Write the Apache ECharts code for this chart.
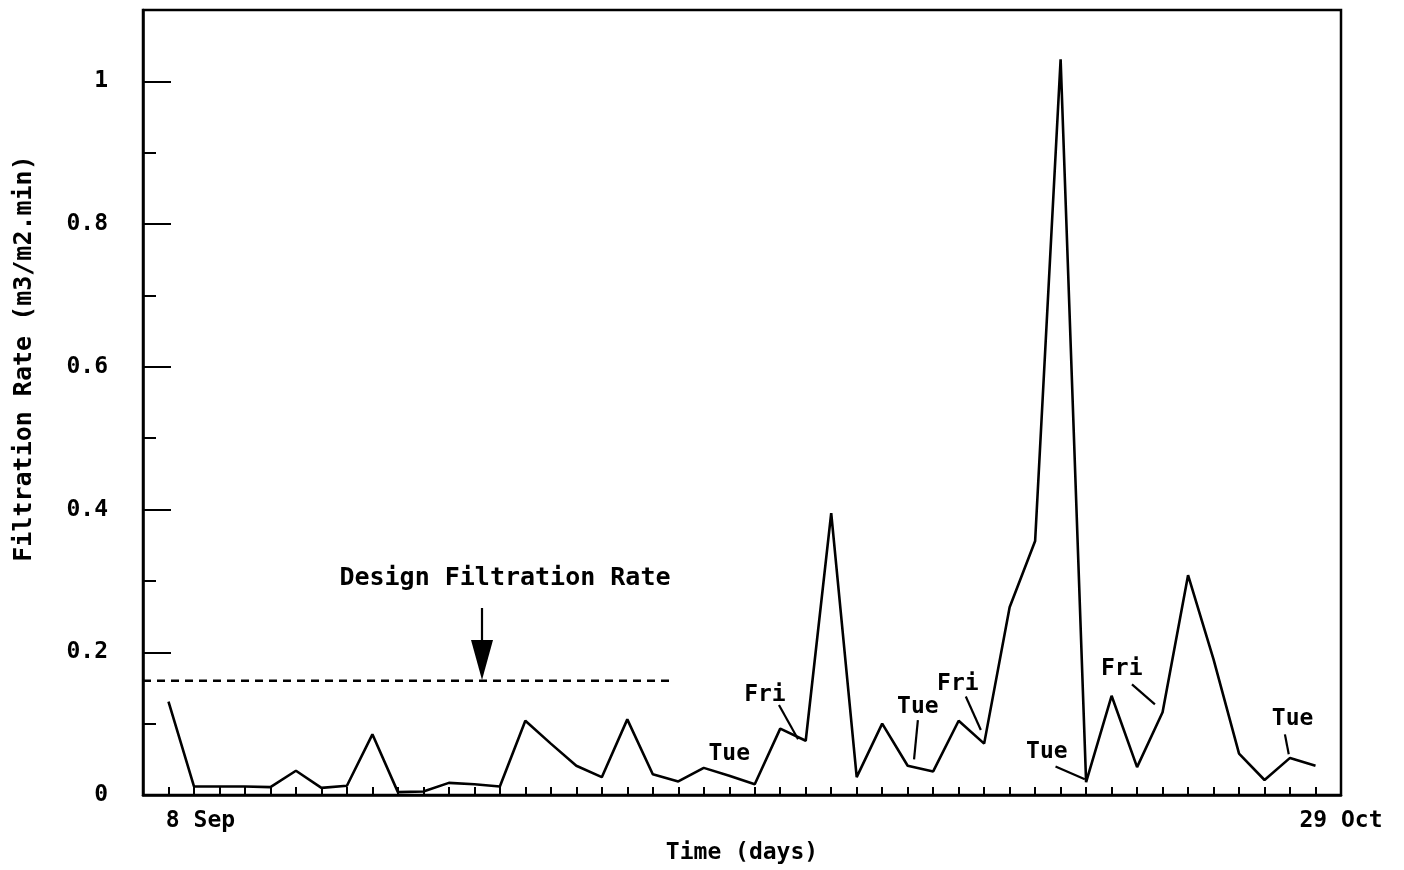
<!DOCTYPE html>
<html><head><meta charset="utf-8">
<script src="https://cdn.jsdelivr.net/npm/echarts@6/dist/echarts.min.js"></script>
<style>html,body{margin:0;padding:0;background:#fff}#c{width:1404px;height:870px}</style>
</head><body><div id="c"></div>
<script>
// ---- data ----
const dayIndex = [0,1,2,3,4,5,6,7,8,9,10,11,12,13,14,15,16,17,18,19,20,21,22,23,24,25,26,27,28,29,30,31,32,33,34,35,36,37,38,39,40,41,42,43,44,45];
const filtrationRate = [0.131,0.012,0.012,0.012,0.011,0.034,0.010,0.013,0.085,0.004,0.005,0.017,0.015,0.012,0.104,0.072,0.041,0.025,0.106,0.029,0.019,0.038,0.027,0.015,0.093,0.076,0.395,0.025,0.100,0.041,0.033,0.104,0.072,0.263,0.356,1.031,0.018,0.139,0.039,0.116,0.308,0.190,0.058,0.021,0.052,0.041];
const xTickLabels = {0: '8 Sep', 46: '29 Oct'};
const yMajorTicks = [0, 0.2, 0.4, 0.6, 0.8, 1];
const yMinorTicks = [0.1, 0.3, 0.5, 0.7, 0.9];
const designRate = 0.16;
const designLineX = [-1, 19.7];
const designLabel = 'Design Filtration Rate';
const designLabelPos = [13.2, 0.303];
const designArrowShaft = [[12.3, 0.262], [12.3, 0.175]];
const designArrowHead = [12.3, 0.189];
const dayNotes = ['Tue', 'Fri', 'Tue', 'Fri', 'Tue', 'Fri', 'Tue'];
const dayNotePos = [[22.0, 0.057], [23.4, 0.140], [29.4, 0.123], [30.97, 0.156], [34.46, 0.060], [37.4, 0.177], [44.1, 0.106]];
const dayLeaders = [
  [[23.95, 0.126], [24.7, 0.078]],
  [[29.4, 0.105], [29.25, 0.050]],
  [[31.28, 0.138], [31.87, 0.091]],
  [[34.8, 0.040], [35.95, 0.022]],
  [[37.8, 0.155], [38.7, 0.127]],
  [[43.8, 0.085], [43.95, 0.057]]
];
// --------------------------------------
const FONT = 'DejaVu Sans Mono';
const chart = echarts.init(document.getElementById('c'), null, {renderer: 'canvas'});
const axisLine = {show: true, onZero: false, lineStyle: {color: '#000', width: 2.5}};
chart.setOption({
  backgroundColor: '#fff',
  animation: false,
  grid: {left: 143, right: 63, top: 10, bottom: 71, show: true, borderColor: '#000', borderWidth: 2.5, backgroundColor: 'transparent'},
  xAxis: {
    type: 'value', min: -1, max: 46, interval: 1,
    axisLine: axisLine,
    splitLine: {show: false},
    axisTick: {show: true, inside: true, length: 8, lineStyle: {color: '#000', width: 2}},
    axisLabel: {
      show: true, margin: 15, color: '#000', fontFamily: FONT, fontSize: 23, fontWeight: 'bold',
      formatter: v => xTickLabels[v] !== undefined ? (v === 0 ? '{l|' + xTickLabels[v] + '}' : xTickLabels[v]) : '',
      rich: {l: {fontFamily: FONT, fontSize: 23, fontWeight: 'bold', color: '#000', padding: [0, 0, 0, 64]}}
    },
    name: 'Time (days)', nameLocation: 'middle', nameGap: 47,
    nameTextStyle: {color: '#000', fontFamily: FONT, fontSize: 23, fontWeight: 'bold'}
  },
  yAxis: [{
    type: 'value', min: 0, max: 1.1,
    axisLine: axisLine,
    splitLine: {show: false},
    axisTick: {show: true, inside: true, length: 28, customValues: yMajorTicks, lineStyle: {color: '#000', width: 2}},
    axisLabel: {show: true, margin: 35, color: '#000', fontFamily: FONT, fontSize: 23, fontWeight: 'bold', customValues: yMajorTicks,
      formatter: v => String(v)},
    name: 'Filtration Rate (m3/m2.min)', nameLocation: 'middle', nameGap: 106, nameRotate: 90,
    nameTextStyle: {color: '#000', fontFamily: FONT, fontSize: 25, fontWeight: 'bold', padding: [0, 0, 0, 88]}
  }, {
    type: 'value', min: 0, max: 1.1, position: 'left',
    axisLine: {show: false, onZero: false},
    splitLine: {show: false},
    axisTick: {show: true, inside: true, length: 13, customValues: yMinorTicks, lineStyle: {color: '#000', width: 2}},
    axisLabel: {show: false}
  }],
  series: [{
    type: 'line', data: dayIndex.map((d, i) => [d, filtrationRate[i]]),
    symbol: 'none', lineStyle: {color: '#000', width: 2.6}, z: 5
  }, {
    type: 'line', data: designLineX.map(x => [x, designRate]),
    symbol: 'none', lineStyle: {color: '#000', width: 2.5, type: [8, 6]}
  }, {
    type: 'lines', coordinateSystem: 'cartesian2d', polyline: false,
    data: [{coords: designArrowShaft}].concat(dayLeaders.map(c => ({coords: c}))),
    lineStyle: {color: '#000', width: 2.2, opacity: 1}, symbol: 'none'
  }, {
    type: 'scatter', data: [designArrowHead], symbol: 'triangle', symbolRotate: 180,
    symbolSize: [22, 40], itemStyle: {color: '#000', opacity: 1}
  }, {
    type: 'scatter', symbolSize: 0, itemStyle: {opacity: 1},
    data: dayNotes.map((n, i) => ({name: n, value: dayNotePos[i]})).concat([{name: designLabel, value: designLabelPos, label: {fontSize: 25}}]),
    label: {show: true, position: 'inside', formatter: p => p.name, color: '#000', opacity: 1, fontFamily: FONT, fontSize: 23, fontWeight: 'bold'}
  }]
});
</script></body></html>
